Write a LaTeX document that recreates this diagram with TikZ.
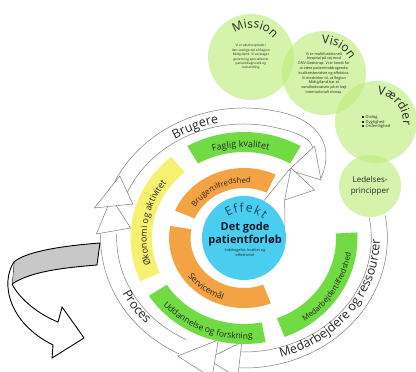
\documentclass[tikz,border=0pt]{standalone}
\usepackage{fontspec}
\setmainfont{Open Sans}
\usepackage{tikz}
\usetikzlibrary{decorations.text}

\definecolor{leafgreen}{RGB}{190,236,125}
\definecolor{faglgreen}{RGB}{112,219,66}
\definecolor{ringyellow}{RGB}{246,241,112}
\definecolor{ringorange}{RGB}{243,163,68}
\definecolor{effektblue}{RGB}{74,206,240}
\definecolor{bandgray}{RGB}{125,125,125}
\definecolor{labelgray}{RGB}{38,38,38}
\definecolor{effektnavy}{RGB}{28,68,100}
\definecolor{facegray}{RGB}{200,200,200}

\newcommand\bandfont{\fontsize{12.5}{14}\selectfont}
\newcommand\ringfont{\fontsize{8.5}{10}\selectfont}
\newcommand\ringfontL{\fontsize{9}{10}\selectfont}
\newcommand\ringfontS{\fontsize{7.7}{9}\selectfont}
\newcommand\titlefont{\fontsize{12}{13}\selectfont}
\newcommand\effektfont{\fontsize{12}{13}\selectfont}

\begin{document}
\begin{tikzpicture}[x=1.07pt,y=1pt,
  band/.style={draw=bandgray,line width=0.5pt},
  head/.style={draw=bandgray,fill=white,line width=0.5pt,line join=round},
  curved/.style={decorate,decoration={text along path,text align=center,text color=labelgray,text={#1}}},
  leaf/.style={circle,fill=leafgreen,fill opacity=0.65,text opacity=1,inner sep=0pt,align=center,text=labelgray}]

\useasboundingbox (-228.04,-134) rectangle (160.75,238);

\draw[band] (10:134 and 130) arc[start angle=10,end angle=-92,x radius=134,y radius=130];
\draw[band] (10:119 and 114) arc[start angle=10,end angle=-92,x radius=119,y radius=114];
\draw[band] (243:134 and 130) arc[start angle=243,end angle=178,x radius=134,y radius=130];
\draw[band] (243:119 and 114) arc[start angle=243,end angle=178,x radius=119,y radius=114];
\draw[band] (160:134 and 130) arc[start angle=160,end angle=78,x radius=134,y radius=130]
  .. controls (60,122) and (88,100) .. (72,60);
\draw[band] (160:119 and 114) arc[start angle=160,end angle=80,x radius=119,y radius=114]
  .. controls (44,108) and (66,100) .. (64,88);

\draw[head] (-138,4) -- (-106,10) -- (-124,40) -- cycle;
\draw[head] (-140,30) -- (-104,34) -- (-116,62) -- cycle;
\draw[head] (-2,-104) -- (-6,-140) -- (-34,-121) -- cycle;
\draw[head] (-24,-102) -- (-30,-140) -- (-62,-118) -- cycle;
\draw[head] (66,92) -- (72,58) -- (42,68) -- cycle;
\draw[head] (44,70) -- (38,38) -- (66,48) -- cycle;
\coordinate (tipa) at (42,68);
\coordinate (tipb) at (38,38);

\fill[ringorange] (65:50) arc[start angle=65,end angle=157,radius=50] -- (157:70) arc[start angle=157,end angle=65,radius=70] -- cycle;
\fill[ringorange] (170:50) arc[start angle=170,end angle=291,radius=50] -- (291:70) arc[start angle=291,end angle=170,radius=70] -- cycle;
\fill[faglgreen] (60:86) arc[start angle=60,end angle=120,radius=86] -- (120:106) arc[start angle=120,end angle=60,radius=106] -- cycle;
\fill[ringyellow] (130:86) arc[start angle=130,end angle=204,radius=86] -- (204:106) arc[start angle=204,end angle=130,radius=106] -- cycle;
\fill[faglgreen] (213:86) arc[start angle=213,end angle=281,radius=86] -- (281:106) arc[start angle=281,end angle=213,radius=106] -- cycle;
\fill[faglgreen] (291:86) arc[start angle=291,end angle=363,radius=86] -- (363:106) arc[start angle=363,end angle=291,radius=106] -- cycle;

\node[circle,fill=effektblue,minimum size=84pt,inner sep=0pt] (effekt) at (0,0) {};
\node[font={\fontsize{11}{13}\selectfont\bfseries},align=center,text={rgb,255:red,20;green,25;blue,40}] (gode) at (1,4) {Det gode\\patientforløb};
\node[font={\fontsize{3.8}{4.6}\selectfont},align=center,text=labelgray] (note) at (1,-14.5) {Inddragelse, kvalitet og\\effektivitet};

\draw[band] (tipa) -- (effekt.62);
\draw[band] (tipb) -- (effekt.14);

\path[decorate,decoration={text along path,text align={fit to path},text color=effektnavy,text={|\effektfont|Effekt}}]
  (126:26) arc[start angle=126,end angle=46,radius=26];

\path[curved={|\bandfont|Brugere}] (135:121 and 117) arc[start angle=135,end angle=89,x radius=121,y radius=117];
\path[curved={|\bandfont|Proces}] (195:127 and 124) arc[start angle=195,end angle=235,x radius=127,y radius=124];
\path[curved={|\bandfont|Medarbejdere og ressourcer}] (278:127 and 124) arc[start angle=278,end angle=368,x radius=127,y radius=124];

\path[curved={|\ringfontL|Faglig kvalitet}] (122:91) arc[start angle=122,end angle=62,radius=91];
\path[curved={|\ringfontS|Brugertilfredshed}] (152:55) arc[start angle=152,end angle=78,radius=55];
\path[curved={|\ringfontL|Økonomi og aktivitet}] (205:91) arc[start angle=205,end angle=135,radius=91];
\path[curved={|\ringfont|Servicemål}] (208:65) arc[start angle=208,end angle=260,radius=65];
\path[curved={|\ringfont|Uddannelse og forskning}] (216:101) arc[start angle=216,end angle=280,radius=101];
\path[curved={|\ringfontS|Medarbejdertilfredshed}] (297:101) arc[start angle=297,end angle=359,radius=101];

\filldraw[fill=facegray,draw=black,line width=0.9pt,line join=round]
  (-134.6,-5) .. controls (-172,-8) and (-204.7,-14) .. (-215,-24) -- (-216.8,-46)
  .. controls (-200,-34) and (-172,-30) .. (-137.4,-27) -- cycle;
\filldraw[fill=white,draw=black,line width=0.9pt]
  (-215,-24) .. controls (-228,-45) and (-220,-85) .. (-178.5,-107) -- (-179.4,-120) -- (-149.5,-100)
  -- (-170,-69) -- (-173.8,-84) .. controls (-190.7,-77) and (-209.3,-62) .. (-216.8,-46);

\node[leaf,minimum size=86pt,font={\fontsize{3.2}{4.4}\selectfont}] (mission) at (6.5,181)
  {Vi er akuthospitalet i\\den vestlige del af Region\\Midtjylland. Vi varetager\\generel og specialiseret\\patientdiagnostik og\\-behandling.};
\node[leaf,minimum size=84pt,font={\fontsize{3.7}{4.8}\selectfont}] (vision) at (74.8,165)
  {Vi er multifunktionelt\\hospital på vej mod\\DNV-Gødstrup. Vi er kendt for\\at være patientinddragende,\\kvalitetsbevidste og effektive.\\Vi medvirker til, at Region\\Midtjylland har et\\sundhedsvæsen på et højt\\internationalt niveau.};
\node[leaf,minimum size=82pt,align=left,font={\fontsize{4}{4.5}\selectfont}] (vaerdier) at (123.4,116)
  {\rule[0.5pt]{2pt}{1.6pt}\hspace{2pt}Dialog\\\rule[0.5pt]{2pt}{1.6pt}\hspace{2pt}Dygtighed\\\rule[0.5pt]{2pt}{1.6pt}\hspace{2pt}Ordentlighed};
\node[leaf,minimum size=62pt,font={\fontsize{8}{11}\selectfont}] (ledelse) at (117.8,52) {Ledelses-\\principper};

\path[curved={|\titlefont|Mission}] ([shift={(150:29pt)}]mission.center) arc[start angle=150,end angle=14,radius=29pt];
\path[curved={|\titlefont|Vision}] ([shift={(128:29pt)}]vision.center) arc[start angle=128,end angle=-6,radius=29pt];
\path[curved={|\titlefont|Værdier}] ([shift={(110:27pt)}]vaerdier.center) arc[start angle=110,end angle=-30,radius=27pt];

\end{tikzpicture}
\end{document}
